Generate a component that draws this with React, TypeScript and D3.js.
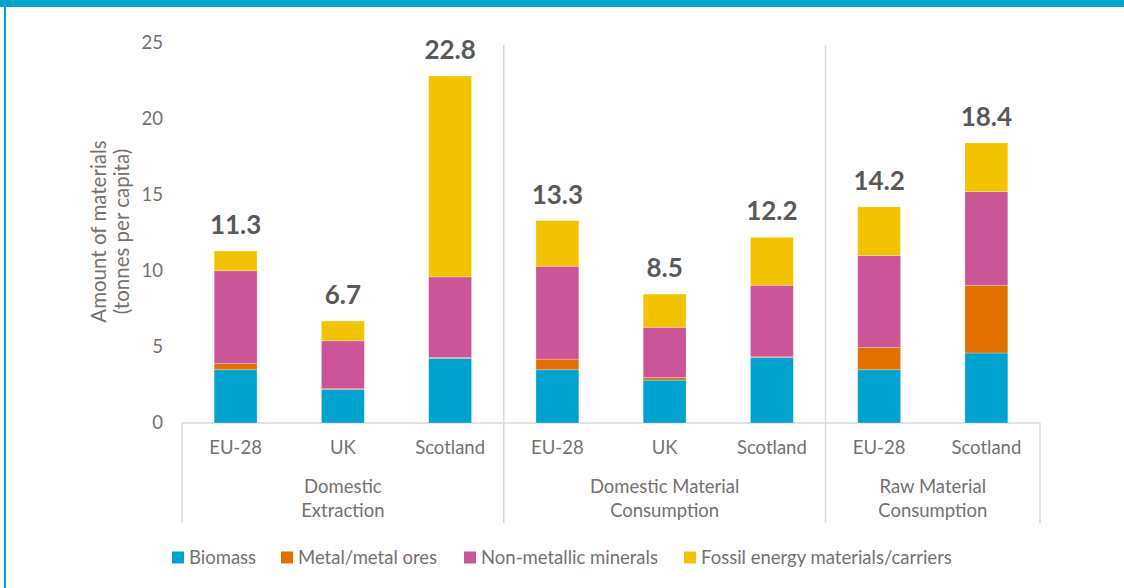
import React from "react";
import * as d3 from "d3";

const categories = ["EU-28", "UK", "Scotland", "EU-28", "UK", "Scotland", "EU-28", "Scotland"];
const groupLabels = [["Domestic", "Extraction"], ["Domestic Material", "Consumption"], ["Raw Material", "Consumption"]];
const groupSizes = [3, 3, 2];
const biomass = [3.5, 2.2, 4.25, 3.5, 2.82, 4.3, 3.5, 4.6];
const metal = [0.4, 0.05, 0.05, 0.7, 0.17, 0.05, 1.45, 4.45];
const nonMetallic = [6.1, 3.15, 5.3, 6.1, 3.3, 4.7, 6.05, 6.15];
const fossil = [1.3, 1.3, 13.2, 3.0, 2.18, 3.15, 3.2, 3.2];
const totals = [11.3, 6.7, 22.8, 13.3, 8.5, 12.2, 14.2, 18.4];
const seriesNames = ["Biomass", "Metal/metal ores", "Non-metallic minerals", "Fossil energy materials/carriers"];
const seriesColors = ["#00A3CF", "#E27000", "#CC5597", "#F4C300"];
const yTicks = [0, 5, 10, 15, 20, 25];

const W = 1124, H = 588;
const FONT = "Lato, 'Open Sans', sans-serif";
const TXT = "#767171";

export default function App() {
  const x0 = 182, x1 = 1040;
  const y = d3.scaleLinear().domain([0, 25]).range([423, 42.5]);
  const x = d3.scaleBand<number>().domain(categories.map((_, i) => i)).range([x0, x1]).paddingInner(0.6).paddingOuter(0.3);
  const rows = categories.map((c, i) => ({ i, Biomass: biomass[i], Metal: metal[i], Non: nonMetallic[i], Fossil: fossil[i] }));
  const keys = ["Biomass", "Metal", "Non", "Fossil"];
  const stack = d3.stack<any>().keys(keys)(rows);

  const bounds: number[] = [0];
  groupSizes.forEach((s) => bounds.push(bounds[bounds.length - 1] + s));
  const bx = (k: number) => x0 + k * ((x1 - x0) / categories.length);

  const legendX = [172, 281, 464, 684];

  return (
    <svg width={W} height={H} style={{ position: "absolute", left: 0, top: 0, background: "#fff" }} fontFamily={FONT}>
      <rect x={0} y={0} width={W} height={7} fill="#00A5CF" />
      <rect x={4} y={0} width={2} height={H} fill="#00A5CF" />

      {/* y tick labels */}
      {yTicks.map((t) => (
        <text key={t} x={163} y={y(t)} dy="0.35em" textAnchor="end" fontSize={18.5} fill={TXT}>{t}</text>
      ))}
      <text transform={`translate(106,231.5) rotate(-90)`} textAnchor="middle" fontSize={20.5} fill={TXT}>
        <tspan x={0} dy={0}>Amount of materials</tspan>
        <tspan x={0} dy={23}>(tonnes per capita)</tspan>
      </text>

      {/* separators */}
      {bounds.map((b, k) => {
        const inner = k > 0 && k < bounds.length - 1;
        return <line key={k} x1={bx(b)} x2={bx(b)} y1={inner ? 45 : y(0)} y2={523} stroke="#D9D9D9" strokeWidth={1.5} />;
      })}
      <line x1={x0} x2={x1} y1={y(0)} y2={y(0)} stroke="#D9D9D9" strokeWidth={1.5} />

      {/* bars */}
      {stack.map((s, si) => (
        <g key={si} fill={seriesColors[si]}>
          {s.map((d, i) => (
            <rect key={i} x={x(i)} width={x.bandwidth()} y={y(d[1])} height={Math.max(0, y(d[0]) - y(d[1]))} stroke="#ffffff" strokeOpacity={0.35} strokeWidth={0.75} />
          ))}
        </g>
      ))}

      {/* total labels */}
      {totals.map((t, i) => (
        <text key={i} x={(x(i) as number) + x.bandwidth() / 2} y={y(t) - 17} textAnchor="middle" fontSize={26} fontWeight="bold" fill="#595959">{t.toFixed(1)}</text>
      ))}

      {/* category labels */}
      {categories.map((c, i) => (
        <text key={i} x={(x(i) as number) + x.bandwidth() / 2} y={448} dy="0.35em" textAnchor="middle" fontSize={18.5} fill={TXT}>{c}</text>
      ))}
      {groupLabels.map((g, k) => {
        const cx = (bx(bounds[k]) + bx(bounds[k + 1])) / 2;
        return (
          <text key={k} x={cx} textAnchor="middle" fontSize={18.5} fill={TXT}>
            {g.map((line, j) => (
              <tspan key={j} x={cx} y={487 + j * 24} dy="0.35em">{line}</tspan>
            ))}
          </text>
        );
      })}

      {/* legend */}
      {seriesNames.map((n, i) => (
        <g key={i}>
          <rect x={legendX[i]} y={551.5} width={12} height={12} fill={seriesColors[i]} />
          <text x={legendX[i] + 17} y={557.5} dy="0.35em" fontSize={18.5} fill={TXT}>{n}</text>
        </g>
      ))}
    </svg>
  );
}
